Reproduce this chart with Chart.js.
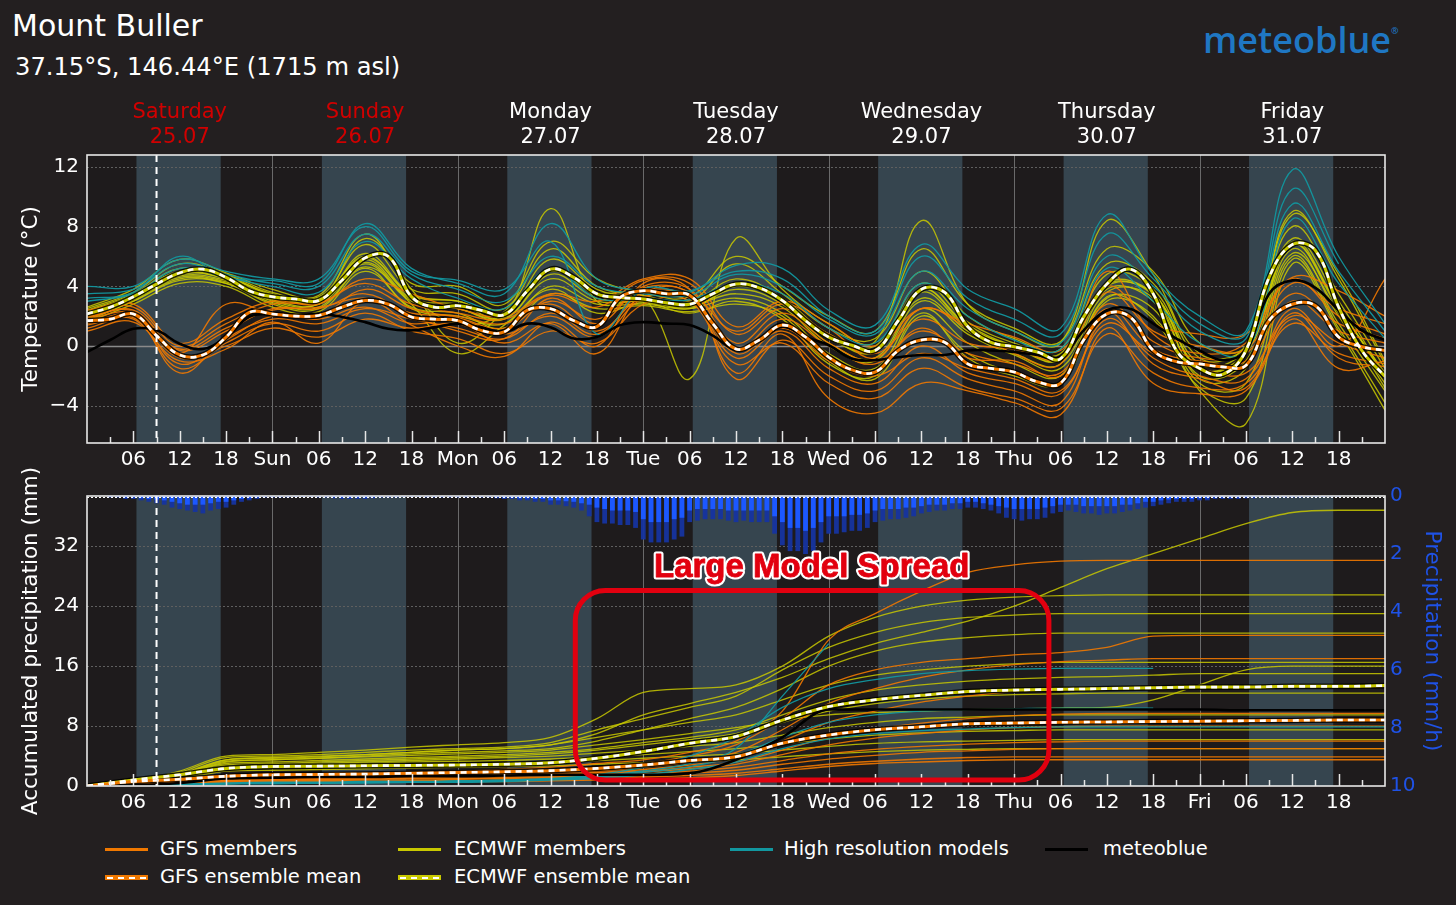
<!DOCTYPE html>
<html>
<head>
<meta charset="utf-8">
<title>Mount Buller - multimodel ensemble</title>
<script src="https://cdn.jsdelivr.net/npm/chart.js@4.4.0/dist/chart.umd.min.js"></script>
<style>
  html, body { margin: 0; padding: 0; background: #231f20; }
  body { width: 1456px; height: 905px; position: relative; overflow: hidden;
         font-family: "DejaVu Sans", sans-serif; color: #fff; }
  #title { position: absolute; left: 12px; top: 11px; font-size: 30px; line-height: 1; }
  #subtitle { position: absolute; left: 15px; top: 55px; font-size: 24.2px; line-height: 1; }
  #logo { position: absolute; left: 1203px; top: 22px; font-family: "Open Sans", sans-serif;
          font-weight: 600; font-size: 36px; line-height: 1; color: #1f77c3; }
  #logo sup { font-size: 9px; vertical-align: top; position: relative; top: 4px; }
  #tempChart { position: absolute; left: 0; top: 90px; }
  #precChart { position: absolute; left: 0; top: 450px; }
  .lg { position: absolute; font-size: 19.5px; line-height: 24px; white-space: nowrap; }
  .sw { position: absolute; width: 43px; height: 3px; }
  .sw.mean { height: 5px; }
  .sw.mean::after { content: ""; position: absolute; left: 2px; right: 0; top: 1.5px; height: 2px;
                    background: repeating-linear-gradient(90deg, #fff 0 6px, transparent 6px 11px); }
</style>
</head>
<body>
<div id="title">Mount Buller</div>
<div id="subtitle">37.15°S, 146.44°E (1715 m asl)</div>
<div id="logo">meteoblue<sup>®</sup></div>

<canvas id="tempChart" width="1456" height="390"></canvas>
<canvas id="precChart" width="1456" height="375"></canvas>

<span class="sw" style="left:105px;top:848px;background:#f07800"></span>
<div class="lg" style="left:160px;top:837px">GFS members</div>
<span class="sw mean" style="left:105px;top:875px;background:#f07800"></span>
<div class="lg" style="left:160px;top:865px">GFS ensemble mean</div>
<span class="sw" style="left:398px;top:848px;background:#c8c800"></span>
<div class="lg" style="left:454px;top:837px">ECMWF members</div>
<span class="sw mean" style="left:398px;top:875px;background:#c8c800"></span>
<div class="lg" style="left:454px;top:865px">ECMWF ensemble mean</div>
<span class="sw" style="left:730px;top:848px;background:#12979f"></span>
<div class="lg" style="left:784px;top:837px">High resolution models</div>
<span class="sw" style="left:1045px;top:848px;background:#000"></span>
<div class="lg" style="left:1103px;top:837px">meteoblue</div>

<script>
// time axis (hours from Saturday 25.07 00:00)
const hours3 = [0, 3, 6, 9, 12, 15, 18, 21, 24, 27, 30, 33, 36, 39, 42, 45, 48, 51, 54, 57,
  60, 63, 66, 69, 72, 75, 78, 81, 84, 87, 90, 93, 96, 99, 102, 105, 108, 111, 114, 117,
  120, 123, 126, 129, 132, 135, 138, 141, 144, 147, 150, 153, 156, 159, 162, 165, 168];
const hours6 = [0, 6, 12, 18, 24, 30, 36, 42, 48, 54, 60, 66, 72, 78, 84, 90, 96, 102,
  108, 114, 120, 126, 132, 138, 144, 150, 156, 162, 168];

const dayNames = ["Saturday", "Sunday", "Monday", "Tuesday", "Wednesday", "Thursday", "Friday"];
const dayDates = ["25.07", "26.07", "27.07", "28.07", "29.07", "30.07", "31.07"];
const dayShort = ["Sat", "Sun", "Mon", "Tue", "Wed", "Thu", "Fri"];
const weekend = [true, true, false, false, false, false, false];

const tempTicks = [-4, 0, 4, 8, 12];
const accTicks = [0, 8, 16, 24, 32];
const rateTicks = [0, 2, 4, 6, 8, 10];

// daylight (hour of day) and the "now" marker
const sunrise = 6.4;
const sunset = 17.3;
const nowHour = 9;

// ---- temperature (°C) ----
const ecmwfMeanTemp = [
  2.15, 2.6, 3.3, 4.15, 4.9, 5.15, 4.6, 3.7,
  3.3, 3.15, 3.05, 4.4, 5.9, 6.0, 3.3, 2.6,
  2.7, 2.4, 2.1, 3.7, 5.15, 4.6, 3.5, 3.25,
  3.15, 2.9, 2.8, 3.5, 4.15, 3.9, 3.05, 1.7,
  0.6, 0.05, -0.3, 1.7, 3.8, 3.6, 1.3, 0.25,
  -0.05, -0.4, -0.85, 1.95, 4.15, 5.15, 3.5, -0.3,
  -1.5, -1.9, -0.3, 4.6, 6.8, 6.4, 2.6, -0.3,
  -2.05];
const gfsMeanTemp = [
  1.7, 1.8, 2.15, 0.7, -0.6, -0.6, 0.6, 2.25,
  2.15, 2.0, 2.05, 2.6, 3.05, 2.8, 1.95, 1.8,
  1.7, 1.05, 0.95, 2.4, 2.5, 1.7, 1.3, 3.25,
  3.7, 3.5, 3.4, 1.5, -0.2, 0.4, 1.4, 0.6,
  -0.75, -1.6, -1.75, -0.3, 0.4, 0.25, -1.2, -1.5,
  -1.75, -2.4, -2.5, 0.4, 2.15, 1.95, -0.3, -1.05,
  -1.2, -1.4, -1.3, 1.7, 2.8, 2.7, 0.6, -0.05,
  -0.3];
const meteoblueTemp = [
  -0.4, 0.4, 1.15, 1.05, 0.15, -0.2, 0.6, 1.95,
  2.15, 2.05, 2.15, 1.95, 1.6, 1.15, 1.05, 1.25,
  1.5, 1.25, 0.95, 1.5, 1.25, 0.5, 0.6, 1.4,
  1.6, 1.5, 1.4, 0.7, -0.25, 0.4, 1.3, 0.6,
  0.05, -0.85, -0.95, -0.75, -0.6, -0.6, -0.3, -0.3,
  -0.4, -0.6, -0.75, 1.05, 2.4, 2.5, 1.5, 0.5,
  -0.3, -0.95, -0.3, 3.5, 4.4, 3.9, 2.4, 1.05,
  0.4];

// members, 6-hourly
const gfsMembersTemp = [
  [1.2, 1.8, -1.5, 0.2, 1.5, 1.0, 2.2, 1.0, 0.5, -0.5, 1.0, 0.2, 2.8, 3.0, -1.2, 0.2, -2.5, -3.5, -1.5, -2.8, -3.5, -4.2, 0.8, -1.8, -2.8, -2.5, 1.5, -0.5, -1.2],
  [2.2, 2.6, 0.0, 1.5, 2.8, 2.9, 4.2, 2.8, 2.2, 1.8, 3.4, 2.6, 4.4, 4.2, 0.8, 2.5, 0.8, -0.5, 1.8, 0.2, -0.2, -0.8, 3.6, 1.0, 0.0, -0.2, 4.2, 2.5, 1.5],
  [1.6, 2.0, -0.8, 0.0, 1.2, 0.6, 1.8, 1.2, 1.5, 0.2, 1.5, -0.5, 3.5, 3.2, -0.8, 1.0, -1.5, -2.5, 0.0, -1.8, -2.5, -3.2, 1.8, -0.8, -2.0, -2.2, 2.5, 0.0, 4.5],
  [1.9, 2.4, -0.3, 1.0, 2.5, 2.5, 3.5, 2.0, 1.0, 0.5, 3.2, 1.5, 4.0, 3.8, 0.2, 2.2, 0.2, -1.0, 1.0, -0.5, -1.2, -1.8, 2.8, 0.3, -0.8, -0.5, 3.5, 1.5, 0.5],
  [1.4, 1.9, -1.2, 0.4, 2.0, 1.8, 2.6, 1.5, 1.8, 0.8, 2.0, 0.6, 3.2, 3.4, -0.5, 1.2, -1.0, -2.0, -0.5, -1.5, -2.2, -3.0, 1.5, -0.5, -1.5, -1.8, 2.0, 0.2, -0.8],
  [2.0, 2.3, -0.5, 2.8, 2.2, 2.0, 3.8, 2.5, 1.9, 1.2, 3.0, 1.8, 3.9, 3.6, 1.0, 2.8, 1.2, -0.8, 2.5, 1.2, -0.5, -1.2, 5.0, 0.8, -0.5, 0.2, 4.5, 2.0, 0.8],
  [1.5, 2.0, -1.8, 0.5, 1.8, 1.5, 2.5, 1.8, 1.2, 0.5, 2.2, 0.8, 3.6, 3.5, -1.8, 0.8, -3.5, -4.5, -2.5, -3.0, -3.8, -4.6, 1.2, -2.5, -3.2, -3.0, 1.8, -1.5, -1.0],
  [1.8, 2.2, -0.2, 1.2, 2.4, 2.6, 3.2, 2.2, 2.0, 1.5, 2.8, 1.0, 3.3, 3.0, -0.2, 1.8, 0.0, -1.2, 1.2, -0.8, -1.0, -2.0, 2.5, -0.2, -1.0, -1.0, 3.0, 1.0, 0.2],
  [1.0, 1.6, -1.0, -0.2, 1.6, 0.2, 3.0, 1.4, 0.0, -0.7, 1.6, 0.0, 4.2, 3.8, -2.2, 0.4, -2.0, -3.0, -0.8, -2.2, -3.0, -3.8, 2.2, -1.2, -2.2, -2.8, 2.2, -0.8, -1.4],
  [2.4, 2.8, 0.2, 1.8, 3.0, 2.8, 4.5, 3.5, 2.5, 2.0, 3.5, 3.0, 4.5, 4.5, 1.3, 3.0, 1.5, 0.0, 2.5, 1.5, 0.6, -0.3, 4.0, 1.5, 0.8, 0.8, 4.6, 3.7, 2.0]
];
const ecmwfMembersTemp = [
  [2.0, 3.2, 4.8, 4.5, 3.0, 2.8, 5.5, 3.0, 2.5, 1.8, 4.8, 3.2, 3.0, 2.6, 3.8, 2.8, 0.2, -0.8, 3.2, 1.0, -0.5, -1.2, 3.8, 3.0, -2.0, -1.0, 6.5, 2.0, -2.5],
  [2.5, 3.6, 5.5, 4.8, 3.6, 3.2, 6.8, 3.8, 3.5, 2.5, 6.5, 4.0, 3.4, 3.0, 5.5, 3.5, 1.2, 0.5, 5.0, 2.0, 0.5, -0.2, 5.5, 4.2, -0.8, 0.0, 8.0, 3.5, -1.5],
  [1.8, 3.0, 4.5, 4.2, 2.8, 2.5, 5.2, 2.5, 2.0, 1.5, 4.0, 2.8, 2.8, 2.5, 3.2, 2.2, -0.5, -1.5, 2.5, 0.2, -1.2, -2.0, 3.2, 2.5, -2.5, -2.5, 6.0, 1.5, -3.0],
  [2.3, 3.4, 5.0, 4.7, 3.4, 3.0, 6.2, 3.5, 3.0, 2.2, 5.8, 3.8, 3.2, 2.9, 4.5, 3.2, 0.8, 0.0, 4.2, 1.6, 0.2, -0.5, 4.8, 3.8, -1.2, -0.2, 7.2, 3.0, -2.0],
  [2.1, 3.3, 4.7, 4.4, 3.2, 3.3, 5.8, 3.2, 2.8, 2.0, 9.2, 3.0, 3.1, 2.5, 4.0, 3.0, 0.5, -0.2, 3.6, 1.2, 0.0, -0.8, 4.0, 3.5, -1.5, -0.5, 6.8, 2.5, -1.8],
  [2.4, 3.5, 5.2, 4.6, 3.5, 3.0, 7.2, 3.8, 0.2, 2.3, 5.0, 3.6, 3.3, -2.2, 7.2, 3.8, 1.5, 0.3, 8.4, 2.8, 1.0, 0.2, 8.4, 4.8, -0.5, 0.0, 9.0, 4.5, -1.2],
  [1.6, 2.8, 4.2, 4.0, 2.6, 2.3, 5.0, 2.6, 2.2, 1.2, 3.5, 2.5, 2.7, 2.3, 2.8, 2.0, -1.0, -2.2, 2.0, -0.5, -1.8, -2.4, 3.0, 2.0, -3.0, -5.2, 5.5, 1.0, -4.3],
  [2.2, 3.4, 5.0, 4.6, 3.4, 3.1, 6.0, 3.4, 3.0, 2.1, 5.2, 3.5, 3.2, 2.8, 4.2, 3.1, 0.6, -0.4, 3.8, 1.4, 0.0, -0.9, 4.2, 3.5, -1.5, -0.4, 7.0, 2.6, -2.0],
  [2.6, 3.8, 5.8, 4.9, 3.8, 3.4, 7.5, 4.2, 4.0, 2.8, 7.0, 4.5, 3.6, 3.3, 6.0, 4.0, 2.0, 1.0, 6.5, 2.8, 1.2, 0.3, 6.5, 5.0, 0.2, 0.0, 8.8, 4.8, -1.0],
  [1.9, 3.1, 4.6, 4.3, 3.1, 2.8, 5.6, 3.1, 2.5, 1.9, 4.5, 3.0, 3.0, 2.7, 3.5, 2.6, 0.0, -1.0, 3.0, 0.8, -0.6, -1.5, 3.6, 3.2, -2.2, -1.5, 6.2, 2.2, -2.8],
  [2.2, 3.3, 4.9, 4.5, 3.3, 3.1, 5.9, 3.3, 1.5, 2.2, 5.1, 3.4, 3.1, 2.8, 4.1, 3.0, 0.6, -0.3, 3.8, 1.3, -0.1, -0.9, 4.1, 3.4, -1.6, -0.5, 6.8, 2.6, -2.1],
  [1.7, 3.0, 4.4, 4.2, 2.9, 2.6, 5.3, 2.8, -0.5, 1.4, 3.8, 2.2, 2.9, 2.2, 3.0, 1.8, -1.2, -2.0, 2.2, -0.8, -2.0, -2.5, 3.3, 1.8, -2.8, -3.5, 5.8, 1.2, -3.8]
];
const hiresTemp = [
  [3.5, 3.8, 5.5, 4.8, 4.2, 4.0, 7.5, 4.8, 3.8, 3.0, 6.0, 4.0, 3.5, 3.4, 4.8, 4.0, 1.8, 0.8, 5.0, 2.5, 1.0, 0.2, 6.0, 4.0, 1.0, 0.5, 9.5, 5.0, 1.0],
  [3.2, 3.6, 6.0, 4.6, 4.4, 4.2, 8.2, 5.2, 4.2, 3.5, 8.2, 4.5, 3.7, 3.6, 5.4, 5.2, 2.4, 1.4, 6.8, 3.8, 2.5, 1.2, 8.8, 4.8, 2.0, 1.0, 11.8, 6.0, 1.5],
  [4.0, 4.0, 5.8, 5.0, 4.5, 4.5, 8.0, 5.0, 4.4, 3.8, 7.0, 0.8, 3.8, 3.7, 5.0, 4.5, 2.0, 1.0, 6.0, 3.2, 1.8, 0.8, 7.5, 4.5, 1.5, 0.8, 10.5, 5.5, null],
  [3.0, 3.5, 5.2, 4.6, 4.0, 3.6, 7.0, 4.5, 3.2, 2.5, 5.2, 3.2, 3.2, 3.1, 4.2, 3.5, 1.2, 0.2, 4.2, 2.0, 0.4, -0.2, 5.2, 3.0, 0.2, -0.4, 8.5, 4.2, 0.5]
];

// ---- accumulated precipitation (mm), 6-hourly ----
const ecmwfMeanAcc = [0, 0.8, 1.5, 2.35, 2.6, 2.65, 2.7, 2.75, 2.8, 2.9, 3.1, 3.7, 4.6, 5.7, 6.6, 8.8, 10.6, 11.5, 12.1, 12.6, 12.8, 12.9, 13.0, 13.1, 13.2, 13.2, 13.3, 13.3, 13.4];
const gfsMeanAcc = [0, 0.6, 0.9, 1.3, 1.5, 1.55, 1.6, 1.7, 1.8, 1.9, 2.05, 2.35, 2.8, 3.4, 3.9, 5.7, 6.8, 7.5, 7.9, 8.3, 8.4, 8.5, 8.55, 8.6, 8.65, 8.7, 8.75, 8.8, 8.8];
const meteoblueAcc = [0, 0.1, 0.4, 1.0, 1.1, 1.2, 1.2, 1.3, 1.3, 1.4, 1.5, 1.5, 1.5, 1.7, 3.5, 6.5, 10.2, 10.2, 10.2, 10.2, 10.2, 10.2, 10.2, 10.2, 10.2, 10.1, 10.1, 10.1, 10.1];

const gfsMembersAcc = [
  [0, 0.4, 0.8, 1.2, 1.4, 1.5, 1.6, 1.8, 2.0, 2.2, 2.5, 3.0, 3.5, 4.5, 6.0, 10.0, 19.5, 23.0, 26.0, 28.5, 29.5, 30.0, 30.1, 30.1, 30.1, 30.1, 30.1, 30.1, 30.1],
  [0, 0.3, 0.7, 1.0, 1.2, 1.3, 1.4, 1.5, 1.6, 1.8, 2.0, 2.5, 3.0, 4.0, 5.5, 9.0, 13.5, 15.5, 16.5, 17.0, 17.5, 17.8, 18.5, 20.0, 20.1, 20.1, 20.1, 20.1, 20.1],
  [0, 0.3, 0.6, 0.9, 1.0, 1.1, 1.2, 1.3, 1.4, 1.5, 1.7, 2.0, 2.5, 3.2, 4.5, 7.5, 11.0, 13.0, 14.5, 15.5, 16.2, 16.6, 16.8, 17.0, 17.0, 17.0, 17.0, 17.0, 17.0],
  [0, 0.2, 0.5, 0.8, 0.9, 1.0, 1.1, 1.2, 1.3, 1.4, 1.5, 1.8, 2.2, 2.8, 3.8, 6.0, 8.5, 10.0, 11.2, 12.0, 12.6, 12.9, 13.1, 13.2, 13.2, 13.2, 13.2, 13.2, 13.2],
  [0, 0.3, 0.6, 0.8, 0.9, 1.0, 1.1, 1.2, 1.3, 1.4, 1.5, 1.7, 2.0, 2.5, 3.2, 4.8, 6.5, 7.6, 8.4, 9.0, 9.4, 9.6, 9.7, 9.7, 9.7, 9.7, 9.7, 9.7, 9.7],
  [0, 0.2, 0.5, 0.7, 0.8, 0.9, 1.0, 1.1, 1.2, 1.3, 1.4, 1.6, 1.9, 2.3, 2.9, 4.2, 5.5, 6.4, 7.0, 7.5, 7.8, 7.9, 8.0, 8.0, 8.0, 8.0, 8.0, 8.0, 8.0],
  [0, 0.2, 0.4, 0.6, 0.7, 0.8, 0.9, 1.0, 1.0, 1.1, 1.2, 1.4, 1.6, 2.0, 2.5, 3.4, 4.3, 4.9, 5.3, 5.6, 5.8, 5.9, 6.0, 6.0, 6.0, 6.0, 6.0, 6.0, 6.0],
  [0, 0.2, 0.4, 0.5, 0.6, 0.7, 0.8, 0.8, 0.9, 1.0, 1.1, 1.2, 1.4, 1.7, 2.1, 2.9, 3.6, 4.1, 4.5, 4.7, 4.9, 5.0, 5.0, 5.0, 5.0, 5.0, 5.0, 5.0, 5.0],
  [0, 0.1, 0.3, 0.4, 0.5, 0.6, 0.6, 0.7, 0.7, 0.8, 0.9, 1.0, 1.2, 1.4, 1.7, 2.3, 2.9, 3.3, 3.6, 3.8, 3.9, 3.9, 3.9, 3.9, 3.9, 3.9, 3.9, 3.9, 3.9],
  [0, 0.1, 0.2, 0.3, 0.4, 0.4, 0.5, 0.5, 0.6, 0.6, 0.7, 0.8, 0.9, 1.1, 1.4, 2.0, 2.6, 3.0, 3.2, 3.4, 3.5, 3.5, 3.5, 3.5, 3.5, 3.5, 3.5, 3.5, 3.5]
];
const ecmwfMembersAcc = [
  [0, 0.5, 1.5, 3.5, 3.8, 4.0, 4.2, 4.5, 4.8, 5.0, 5.5, 7.0, 9.5, 11.0, 12.5, 14.5, 17.0, 19.0, 20.5, 22.0, 24.0, 26.5, 29.0, 31.0, 33.0, 35.0, 36.5, 36.8, 36.8],
  [0, 0.6, 2.0, 4.0, 4.2, 4.5, 4.8, 5.2, 5.5, 5.8, 6.5, 9.0, 12.5, 13.0, 13.5, 16.0, 20.0, 22.5, 24.0, 24.8, 25.2, 25.4, 25.5, 25.5, 25.5, 25.5, 25.5, 25.5, 25.5],
  [0, 0.5, 1.8, 3.8, 4.0, 4.2, 4.5, 4.8, 5.0, 5.2, 5.8, 7.5, 9.0, 10.5, 12.0, 15.5, 18.5, 20.5, 21.8, 22.5, 22.8, 23.0, 23.0, 23.0, 23.0, 23.0, 23.0, 23.0, 23.0],
  [0, 0.4, 1.5, 3.2, 3.5, 3.7, 4.0, 4.3, 4.5, 4.7, 5.0, 6.0, 7.5, 9.0, 10.5, 13.0, 16.0, 18.0, 19.2, 19.8, 20.2, 20.4, 20.4, 20.4, 20.4, 20.4, 20.4, 20.4, 20.4],
  [0, 0.5, 1.6, 3.5, 3.7, 3.9, 4.2, 4.5, 4.8, 5.0, 5.5, 6.5, 7.5, 8.5, 9.5, 11.5, 13.5, 14.8, 15.5, 16.0, 16.3, 16.5, 16.5, 16.5, 16.5, 16.5, 16.5, 16.5, 16.5],
  [0, 0.4, 1.4, 3.0, 3.2, 3.4, 3.6, 3.8, 4.0, 4.2, 4.5, 5.0, 5.8, 6.5, 7.5, 9.5, 11.5, 12.8, 13.5, 14.0, 14.3, 14.5, 14.6, 14.8, 15.0, 15.0, 15.0, 15.0, 15.0],
  [0, 0.5, 1.5, 3.3, 3.5, 3.7, 3.9, 4.1, 4.3, 4.5, 4.8, 5.5, 6.2, 7.0, 7.8, 8.8, 9.5, 9.8, 10.0, 10.2, 10.3, 10.4, 10.5, 11.5, 13.5, 15.5, 16.0, 16.0, 16.0],
  [0, 0.4, 1.3, 2.8, 3.0, 3.2, 3.4, 3.6, 3.8, 4.0, 4.3, 4.8, 5.5, 6.2, 7.0, 8.5, 10.0, 11.0, 11.6, 12.0, 12.2, 12.3, 12.4, 12.4, 12.4, 12.4, 12.4, 12.4, 12.4],
  [0, 0.3, 1.2, 2.6, 2.8, 3.0, 3.2, 3.4, 3.6, 3.8, 4.0, 4.4, 4.8, 5.3, 5.8, 6.8, 7.8, 8.5, 9.0, 9.2, 9.4, 9.5, 9.5, 9.5, 9.5, 9.5, 9.5, 9.5, 9.5],
  [0, 0.3, 1.0, 2.4, 2.6, 2.8, 3.0, 3.2, 3.3, 3.4, 3.6, 3.9, 4.2, 4.6, 5.0, 5.6, 6.3, 6.8, 7.1, 7.3, 7.4, 7.5, 7.5, 7.5, 7.5, 7.5, 7.5, 7.5, 7.5],
  [0, 0.3, 1.0, 2.2, 2.4, 2.5, 2.6, 2.8, 2.9, 3.0, 3.2, 3.4, 3.7, 4.0, 4.3, 4.8, 5.3, 5.7, 5.9, 6.0, 6.1, 6.2, 6.2, 6.2, 6.2, 6.2, 6.2, 6.2, 6.2],
  [0, 0.2, 0.8, 2.0, 2.1, 2.2, 2.3, 2.4, 2.5, 2.6, 2.7, 2.9, 3.1, 3.3, 3.5, 3.9, 4.3, 4.6, 4.8, 4.9, 5.0, 5.0, 5.0, 5.0, 5.0, 5.0, 5.0, 5.0, 5.0]
];
const hiresAcc = [
  [0, 0.1, 0.2, 0.4, 0.5, 0.5, 0.6, 0.6, 0.7, 0.8, 1.0, 1.5, 2.5, 4.0, 6.5, 10.5, 13.0, 14.2, 15.0, 15.4, 15.6, 15.7, 15.7, 15.7, null, null, null, null, null],
  [0, 0.1, 0.2, 0.3, 0.4, 0.4, 0.5, 0.5, 0.6, 0.7, 0.9, 1.3, 2.0, 3.0, 5.0, 12.0, 19.0, null, null, null, null, null, null, null, null, null, null, null, null],
  [0, 0.1, 0.2, 0.3, 0.3, 0.4, 0.4, 0.5, 0.5, 0.6, 0.8, 1.0, 1.5, 2.2, 3.2, 5.0, 6.3, 7.0, 7.4, 7.6, 7.8, 7.9, 7.9, 7.9, 7.9, 7.9, 7.9, 7.9, 7.9],
  [0, 0.1, 0.2, 0.3, 0.4, 0.4, 0.5, 0.5, 0.6, 0.7, 0.9, 1.2, 1.8, 2.6, 4.0, 6.5, 8.5, 9.5, 10.0, 10.2, 10.3, 10.4, 10.4, 10.4, null, null, null, null, null]
];

// ---- precipitation rate (mm/h), hourly: one row per day, index = hour ----
const rateUpper = [].concat(
  [0, 0, 0, 0.05, 0.05, 0.1, 0.1, 0.15, 0.2, 0.25, 0.3, 0.4, 0.45, 0.5, 0.55, 0.6, 0.5, 0.45, 0.4, 0.3, 0.2, 0.15, 0.1, 0.05],
  [0.05, 0.05, 0.05, 0.03, 0.03, 0.03, 0.05, 0.05, 0.08, 0.1, 0.1, 0.1, 0.1, 0.08, 0.05, 0.05, 0.05, 0.03, 0.03, 0.03, 0.05, 0.05, 0.05, 0.05],
  [0.05, 0.05, 0.05, 0.05, 0.05, 0.08, 0.1, 0.1, 0.15, 0.15, 0.2, 0.2, 0.3, 0.3, 0.35, 0.4, 0.5, 0.7, 0.9, 0.95, 0.95, 1.0, 1.0, 1.1],
  [1.5, 1.6, 1.6, 1.6, 1.5, 1.4, 0.9, 0.85, 0.8, 0.8, 0.8, 0.85, 0.9, 0.85, 0.9, 0.9, 0.9, 1.3, 1.7, 1.9, 1.9, 2.0, 1.9, 1.6],
  [1.3, 1.3, 1.25, 1.2, 1.2, 1.1, 0.9, 0.85, 0.8, 0.8, 0.75, 0.7, 0.6, 0.55, 0.5, 0.5, 0.45, 0.45, 0.4, 0.4, 0.45, 0.5, 0.6, 0.75],
  [0.8, 0.85, 0.8, 0.8, 0.75, 0.6, 0.55, 0.5, 0.55, 0.6, 0.6, 0.65, 0.6, 0.6, 0.55, 0.5, 0.45, 0.4, 0.35, 0.3, 0.25, 0.2, 0.2, 0.2],
  [0.15, 0.15, 0.1, 0.1, 0.1, 0.1, 0.08, 0.08, 0.05, 0.05, 0.05, 0.05, 0.05, 0.05, 0.03, 0.03, 0.03, 0.02, 0.02, 0, 0, 0, 0, 0],
  [0]
);
const rateTypical = [].concat(
  [0, 0, 0, 0.02, 0.02, 0.05, 0.05, 0.08, 0.1, 0.12, 0.15, 0.2, 0.25, 0.3, 0.3, 0.3, 0.25, 0.2, 0.2, 0.15, 0.1, 0.08, 0.05, 0.02],
  [0.02, 0.02, 0.02, 0.02, 0.02, 0.02, 0.02, 0.02, 0.04, 0.05, 0.05, 0.05, 0.05, 0.04, 0.02, 0.02, 0.02, 0.02, 0.02, 0.02, 0.02, 0.02, 0.02, 0.02],
  [0.02, 0.02, 0.02, 0.02, 0.02, 0.04, 0.05, 0.05, 0.08, 0.08, 0.1, 0.1, 0.15, 0.15, 0.18, 0.2, 0.25, 0.3, 0.4, 0.45, 0.5, 0.5, 0.5, 0.55],
  [0.8, 0.9, 0.9, 0.9, 0.8, 0.75, 0.5, 0.45, 0.45, 0.45, 0.45, 0.5, 0.5, 0.5, 0.5, 0.5, 0.5, 0.7, 0.9, 1.1, 1.1, 1.2, 1.1, 0.9],
  [0.7, 0.7, 0.7, 0.65, 0.65, 0.6, 0.5, 0.45, 0.45, 0.45, 0.4, 0.4, 0.35, 0.3, 0.3, 0.3, 0.25, 0.25, 0.2, 0.2, 0.25, 0.3, 0.35, 0.4],
  [0.45, 0.45, 0.45, 0.45, 0.4, 0.35, 0.3, 0.3, 0.3, 0.35, 0.35, 0.35, 0.35, 0.35, 0.3, 0.3, 0.25, 0.2, 0.2, 0.15, 0.12, 0.1, 0.1, 0.1],
  [0.08, 0.08, 0.05, 0.05, 0.05, 0.05, 0.04, 0.04, 0.02, 0.02, 0.02, 0.02, 0.02, 0.02, 0.02, 0.02, 0.02, 0.01, 0.01, 0, 0, 0, 0, 0],
  [0]
);

// annotation
const noteText = "Large Model Spread";
const noteBox = { from: 63.2, to: 124.5, top: 26.1, bottom: 0.8 };
const noteAt = { hour: 93.8, mm: 27.9 };

// ---- colours ----
const GFS = "rgba(240, 120, 0, 0.9)";
const ECMWF = "rgba(200, 200, 0, 0.85)";
const HIRES = "rgba(18, 151, 159, 0.95)";
const BLUE = "#1f52e6";
const FONT = "DejaVu Sans";

Chart.defaults.font.family = FONT;
Chart.defaults.color = "#fff";

function pts(values, hours) {
  return values.map((v, i) => ({ x: hours ? hours[i] : i, y: v }));
}

function memberSets(rows, hours, color, order, extra) {
  return rows.map(r => Object.assign({
    data: pts(r, hours), borderColor: color, borderWidth: 1.3, order: order
  }, extra));
}

// colour line with a dark edge and white dashes on top
function meanSets(values, hours, color, extra) {
  return [
    Object.assign({ data: pts(values, hours), borderColor: "rgba(0,0,0,0.85)", borderWidth: 5.6, order: 2 }, extra),
    Object.assign({ data: pts(values, hours), borderColor: color, borderWidth: 3, order: 1 }, extra),
    Object.assign({ data: pts(values, hours), borderColor: "#fff", borderWidth: 2.6,
      borderDash: [6, 5], order: 0 }, extra)
  ];
}

function hourLabel(v) {
  if (v % 24 === 0) return dayShort[v / 24];
  return String(v % 24).padStart(2, "0");
}

// background, bands, grid, ticks, border
const panelDecor = {
  id: "panelDecor",
  beforeDatasetsDraw(chart, args, opts) {
    const { ctx, chartArea: a, scales } = chart;
    const x = scales.x, y = scales[opts.gridAxis];
    ctx.save();
    ctx.fillStyle = "#1e1b1c";
    ctx.fillRect(a.left, a.top, a.width, a.height);
    ctx.fillStyle = "#36454f";
    for (let d = 0; d < 7; d++) {
      const x0 = x.getPixelForValue(d * 24 + sunrise);
      const x1 = x.getPixelForValue(d * 24 + sunset);
      ctx.fillRect(x0, a.top, x1 - x0, a.height);
    }
    // horizontal grid
    y.ticks.forEach(t => {
      const py = Math.round(y.getPixelForValue(t.value)) + 0.5;
      if (py <= a.top + 1 || py >= a.bottom - 1) return;
      ctx.beginPath();
      if (t.value === 0 && opts.zeroLine) {
        ctx.setLineDash([]);
        ctx.strokeStyle = "#8a8a8a";
        ctx.lineWidth = 1.3;
      } else {
        ctx.setLineDash([2, 2]);
        ctx.strokeStyle = "#5f5f5f";
        ctx.lineWidth = 1;
      }
      ctx.moveTo(a.left, py);
      ctx.lineTo(a.right, py);
      ctx.stroke();
    });
    // midnight lines
    ctx.setLineDash([]);
    ctx.strokeStyle = "#6a6a6a";
    ctx.lineWidth = 1;
    for (let d = 1; d < 7; d++) {
      const px = Math.round(x.getPixelForValue(d * 24)) + 0.5;
      ctx.beginPath();
      ctx.moveTo(px, a.top);
      ctx.lineTo(px, a.bottom);
      ctx.stroke();
    }
    ctx.restore();
  },
  afterDatasetsDraw(chart, args, opts) {
    const { ctx, chartArea: a, scales } = chart;
    const x = scales.x;
    ctx.save();
    ctx.beginPath();
    ctx.rect(a.left, a.top, a.width, a.height);
    ctx.clip();
    if (opts.topDots) {
      ctx.setLineDash([2, 2]);
      ctx.strokeStyle = "#ffffff";
      ctx.lineWidth = 1.2;
      ctx.beginPath();
      ctx.moveTo(a.left, a.top + 1.5);
      ctx.lineTo(a.right, a.top + 1.5);
      ctx.stroke();
    }
    // now marker
    const nx = x.getPixelForValue(nowHour);
    ctx.setLineDash([7, 5]);
    ctx.strokeStyle = "#ffffff";
    ctx.lineWidth = 2;
    ctx.beginPath();
    ctx.moveTo(nx, a.top);
    ctx.lineTo(nx, a.bottom);
    ctx.stroke();
    // inward ticks
    ctx.setLineDash([]);
    ctx.strokeStyle = "#e6e6e6";
    ctx.lineWidth = 1.5;
    hours3.forEach(h => {
      if (h === 0 || h === 168) return;
      const px = Math.round(x.getPixelForValue(h)) + 0.5;
      const len = h % 6 === 0 ? 12 : 6;
      ctx.beginPath();
      ctx.moveTo(px, a.bottom);
      ctx.lineTo(px, a.bottom - len);
      ctx.stroke();
    });
    ctx.restore();
    ctx.save();
    ctx.strokeStyle = "#e8e8e8";
    ctx.lineWidth = 1.6;
    ctx.strokeRect(a.left, a.top, a.width, a.height);
    ctx.restore();
  }
};

const spreadNote = {
  id: "spreadNote",
  afterDatasetsDraw(chart) {
    const { ctx, scales } = chart;
    const x = scales.x, y = scales.yAcc;
    const x0 = x.getPixelForValue(noteBox.from), x1 = x.getPixelForValue(noteBox.to);
    const y0 = y.getPixelForValue(noteBox.top), y1 = y.getPixelForValue(noteBox.bottom);
    ctx.save();
    ctx.strokeStyle = "#e2000f";
    ctx.lineWidth = 5;
    ctx.beginPath();
    ctx.roundRect(x0, y0, x1 - x0, y1 - y0, 30);
    ctx.stroke();
    ctx.font = 'bold 33px "Liberation Sans", Arial, sans-serif';
    ctx.textAlign = "center";
    ctx.textBaseline = "alphabetic";
    ctx.lineJoin = "round";
    ctx.strokeStyle = "#ffffff";
    ctx.lineWidth = 5;
    const tx = x.getPixelForValue(noteAt.hour), ty = y.getPixelForValue(noteAt.mm);
    ctx.strokeText(noteText, tx, ty);
    ctx.fillStyle = "#e2000f";
    ctx.fillText(noteText, tx, ty);
    ctx.lineWidth = 0.8;
    ctx.strokeStyle = "#e2000f";
    ctx.strokeText(noteText, tx, ty);
    ctx.restore();
  }
};

const xTickHours = hours6.filter(h => h > 0 && h < 168);

const xAxis = (height) => ({
  type: "linear", min: 0, max: 168, offset: false,
  afterBuildTicks: s => { s.ticks = xTickHours.map(v => ({ value: v })); },
  afterFit: s => { s.height = height; },
  grid: { display: false, drawTicks: false, offset: false },
  border: { display: false },
  ticks: { callback: hourLabel, color: "#fff", font: { size: 20 }, padding: 5,
           maxRotation: 0, autoSkip: false }
});

const axisTitleFont = { size: 21.5 };

// ---------- temperature chart ----------
const tempDatasets = [].concat(
  memberSets(ecmwfMembersTemp, hours6, ECMWF, 7, { tension: 0.4 }),
  memberSets(gfsMembersTemp, hours6, GFS, 6, { tension: 0.4 }),
  memberSets(hiresTemp, hours6, HIRES, 5, { tension: 0.4 }),
  [{ data: pts(meteoblueTemp, hours3), borderColor: "#000", borderWidth: 2.6, order: 3, tension: 0.4 }],
  meanSets(gfsMeanTemp, hours3, "rgb(240,120,0)", { tension: 0.4 }),
  meanSets(ecmwfMeanTemp, hours3, "rgb(200,200,0)", { tension: 0.4 })
);

new Chart(document.getElementById("tempChart"), {
  type: "line",
  data: { datasets: tempDatasets },
  options: {
    responsive: false,
    animation: false,
    layout: { padding: { top: 0, right: 71, bottom: 0, left: 0 } },
    elements: { point: { radius: 0 } },
    plugins: {
      legend: { display: false },
      tooltip: { enabled: false },
      panelDecor: { gridAxis: "y", zeroLine: true, topDots: false }
    },
    scales: {
      x: xAxis(37),
      xTop: {
        type: "linear", position: "top", min: 0, max: 168,
        afterBuildTicks: s => { s.ticks = dayNames.map((n, i) => ({ value: i * 24 + 12 })); },
        afterFit: s => { s.height = 65; },
        grid: { display: false, drawTicks: false },
        border: { display: false },
        ticks: {
          callback: v => { const i = (v - 12) / 24; return [dayNames[i], dayDates[i]]; },
          color: c => weekend[Math.round((c.tick.value - 12) / 24)] ? "#d00000" : "#ffffff",
          font: { size: 21, lineHeight: 1.2 }, padding: 5, maxRotation: 0, autoSkip: false
        }
      },
      y: {
        min: -6.5, max: 12.8,
        afterBuildTicks: s => { s.ticks = tempTicks.map(v => ({ value: v })); },
        afterFit: s => { s.width = 87; },
        grid: { display: false, drawTicks: false },
        border: { display: false },
        ticks: { callback: v => v < 0 ? "\u2212" + Math.abs(v) : String(v),
                 color: "#fff", font: { size: 20 }, padding: 8 },
        title: { display: true, text: "Temperature (°C)", color: "#fff",
                 font: axisTitleFont, padding: { top: 19, bottom: 0 } }
      }
    }
  },
  plugins: [panelDecor]
});

// ---------- precipitation chart ----------
const precDatasets = [].concat(
  [{ type: "bar", data: pts(rateUpper), yAxisID: "yRate", backgroundColor: "rgba(22, 52, 160, 0.95)",
     grouped: false, barPercentage: 0.62, categoryPercentage: 1, order: 11 },
   { type: "bar", data: pts(rateTypical), yAxisID: "yRate", backgroundColor: "rgba(28, 88, 255, 1)",
     grouped: false, barPercentage: 0.62, categoryPercentage: 1, order: 10 }],
  memberSets(ecmwfMembersAcc, hours6, ECMWF, 7, { yAxisID: "yAcc", cubicInterpolationMode: "monotone" }),
  memberSets(gfsMembersAcc, hours6, GFS, 6, { yAxisID: "yAcc", cubicInterpolationMode: "monotone" }),
  memberSets(hiresAcc, hours6, HIRES, 5, { yAxisID: "yAcc", cubicInterpolationMode: "monotone" }),
  [{ data: pts(meteoblueAcc, hours6), yAxisID: "yAcc", borderColor: "#000", borderWidth: 2.6, order: 3,
     cubicInterpolationMode: "monotone" }],
  meanSets(gfsMeanAcc, hours6, "rgb(240,120,0)", { yAxisID: "yAcc", cubicInterpolationMode: "monotone" }),
  meanSets(ecmwfMeanAcc, hours6, "rgb(200,200,0)", { yAxisID: "yAcc", cubicInterpolationMode: "monotone" })
);

new Chart(document.getElementById("precChart"), {
  type: "line",
  data: { datasets: precDatasets },
  options: {
    responsive: false,
    animation: false,
    layout: { padding: { top: 46, right: 0, bottom: 0, left: 0 } },
    elements: { point: { radius: 0 } },
    plugins: {
      legend: { display: false },
      tooltip: { enabled: false },
      panelDecor: { gridAxis: "yAcc", zeroLine: false, topDots: true }
    },
    scales: {
      x: xAxis(39),
      yAcc: {
        position: "left", min: 0, max: 38.7,
        afterBuildTicks: s => { s.ticks = accTicks.map(v => ({ value: v })); },
        afterFit: s => { s.width = 87; },
        grid: { display: false, drawTicks: false },
        border: { display: false },
        ticks: { color: "#fff", font: { size: 20 }, padding: 8 },
        title: { display: true, text: "Accumulated precipitation (mm)", color: "#fff",
                 font: axisTitleFont, padding: { top: 19, bottom: 0 } }
      },
      yRate: {
        position: "right", min: 0, max: 10, reverse: true,
        afterBuildTicks: s => { s.ticks = rateTicks.map(v => ({ value: v })); },
        afterFit: s => { s.width = 71; },
        grid: { display: false, drawTicks: false },
        border: { display: false },
        ticks: { color: BLUE, font: { size: 20 }, padding: 5 },
        title: { display: true, text: "Precipitation (mm/h)", color: BLUE,
                 font: axisTitleFont, padding: { top: 12, bottom: 0 } }
      }
    }
  },
  plugins: [panelDecor, spreadNote]
});
</script>
</body>
</html>
